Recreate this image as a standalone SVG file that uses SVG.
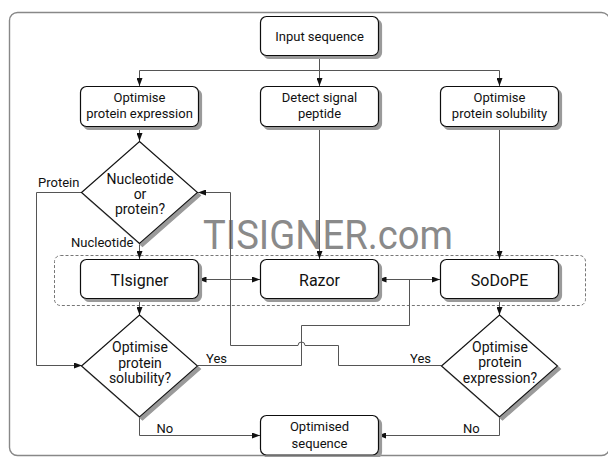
<svg xmlns="http://www.w3.org/2000/svg" width="608" height="457" viewBox="0 0 608 457">
<defs>
<style>
text{font-family:Roboto,"Liberation Sans",Arial,sans-serif;fill:#111}
.box{fill:#fff;stroke:#111;stroke-width:1.2;filter:url(#sh)}
.dia{fill:#fff;stroke:#111;stroke-width:1.2;filter:url(#sh)}
.t13{font-size:13px;text-anchor:middle}
.t14{font-size:14px;text-anchor:middle}
.t16{font-size:16px;text-anchor:middle}
.lbl{font-size:13px}
.con{fill:none;stroke:#555;stroke-width:1}
.arr{marker-end:url(#ah)}
.bi{marker-start:url(#ah);marker-end:url(#ah)}
</style>
<filter id="sh" x="-10%" y="-10%" width="130%" height="130%">
<feOffset in="SourceAlpha" dx="2.5" dy="2.5" result="o"/>
<feGaussianBlur in="o" stdDeviation="0.6" result="b"/>
<feFlood flood-color="#9a9a9a"/>
<feComposite in2="b" operator="in"/>
<feMerge><feMergeNode/><feMergeNode in="SourceGraphic"/></feMerge>
</filter>
<marker id="ah" viewBox="0 0 8 6" refX="8" refY="3" markerWidth="8" markerHeight="6" markerUnits="userSpaceOnUse" orient="auto-start-reverse">
<path d="M0,0 L8,3 L0,6 Z" fill="#111"/>
</marker>
</defs>
<rect x="9.5" y="12.5" width="600" height="443" rx="8" fill="none" stroke="#888" stroke-width="1.4"/>
<rect id="container" x="54.5" y="255.5" width="531" height="50" rx="6" fill="none" stroke="#777" stroke-width="1" stroke-dasharray="3,2"/>
<text x="203" y="248.5" font-size="40" style="fill:#8a8a8a" textLength="250" lengthAdjust="spacingAndGlyphs">TISIGNER.com</text>
<g id="connectors">
<path class="con" d="M319.5,55.5 V70.5"/>
<path class="con arr" d="M319.5,70.5 H139.5 V86"/>
<path class="con arr" d="M319.5,70.5 V86"/>
<path class="con arr" d="M319.5,70.5 H499.5 V86"/>
<path class="con arr" d="M139.5,126.5 V141"/>
<path class="con arr" d="M319.5,126.5 V259"/>
<path class="con arr" d="M499.5,126.5 V259"/>
<path class="con arr" d="M139.5,243.5 V259"/>
<path class="con bi" d="M198.5,279.5 H260"/>
<path class="con bi" d="M378.5,279.5 H440"/>
<path class="con arr" d="M139.5,298.5 V315"/>
<path class="con arr" d="M499.5,298.5 V315"/>
<path class="con arr" d="M82,192.5 H36.5 V365.5 H82"/>
<path class="con" d="M197.5,365.5 H301.5 V325.5 H409.5 V279.5"/>
<path class="con arr" d="M441.5,365.5 H338.5 V345.5 H305 A3.5,3.5 0 0 0 298,345.5 H230.5 V192.5 H198"/>
<path class="con arr" d="M139.5,417 V435.5 H260"/>
<path class="con arr" d="M499.5,417 V435.5 H378"/>
</g>
<g id="input"><rect class="box" x="260.5" y="16.5" width="118" height="39" rx="6"/><text class="t13" x="319.5" y="40.5">Input sequence</text></g>
<g id="opt-expr"><rect class="box" x="80.5" y="86.5" width="118" height="40" rx="6"/><text class="t13" x="139.5" y="102">Optimise</text><text class="t13" x="139.5" y="118">protein expression</text></g>
<g id="detect"><rect class="box" x="260.5" y="86.5" width="118" height="40" rx="6"/><text class="t13" x="319.5" y="102">Detect signal</text><text class="t13" x="319.5" y="118">peptide</text></g>
<g id="opt-sol"><rect class="box" x="440.5" y="86.5" width="118" height="40" rx="6"/><text class="t13" x="499.5" y="102">Optimise</text><text class="t13" x="499.5" y="118">protein solubility</text></g>
<g id="nuc-or-prot"><path class="dia" d="M139.5,141.5 L197.5,192.5 L139.5,243.5 L81.5,192.5 Z"/><text class="t14" x="140" y="184">Nucleotide</text><text class="t14" x="140" y="199">or</text><text class="t14" x="140" y="214">protein?</text></g>
<g id="tisigner"><rect class="box" x="80.5" y="259.5" width="118" height="39" rx="6"/><text class="t16" x="139.5" y="285.5">TIsigner</text></g>
<g id="razor"><rect class="box" x="260.5" y="259.5" width="118" height="39" rx="6"/><text class="t16" x="319.5" y="285.5">Razor</text></g>
<g id="sodope"><rect class="box" x="440.5" y="259.5" width="118" height="39" rx="6"/><text class="t16" x="499.5" y="285.5">SoDoPE</text></g>
<g id="q-sol"><path class="dia" d="M139.5,315 L197.5,366 L139.5,417 L81.5,366 Z"/><text class="t14" x="140" y="352">Optimise</text><text class="t14" x="140" y="367.5">protein</text><text class="t14" x="140" y="383">solubility?</text></g>
<g id="q-expr"><path class="dia" d="M499.5,315 L557.5,366 L499.5,417 L441.5,366 Z"/><text class="t14" x="500" y="351.5">Optimise</text><text class="t14" x="500" y="367">protein</text><text class="t14" x="500" y="382.5">expression?</text></g>
<g id="optimised"><rect class="box" x="260.5" y="415.5" width="118" height="39.5" rx="6"/><text class="t13" x="319.5" y="430.5">Optimised</text><text class="t13" x="319.5" y="447.5">sequence</text></g>
<g id="labels">
<text class="lbl" x="38" y="187">Protein</text>
<text class="lbl" x="71" y="247">Nucleotide</text>
<text class="lbl" x="206" y="363">Yes</text>
<text class="lbl" x="410" y="363">Yes</text>
<text class="lbl" x="156.5" y="433">No</text>
<text class="lbl" x="463" y="433">No</text>
</g>
</svg>
